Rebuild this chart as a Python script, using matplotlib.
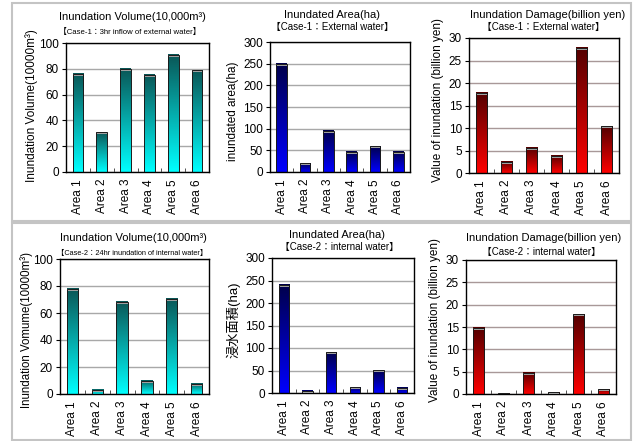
import numpy as np
import matplotlib
matplotlib.use("Agg")
import matplotlib.pyplot as plt
from matplotlib.colors import LinearSegmentedColormap
from matplotlib.patches import Rectangle

plt.rcParams['font.family'] = ['Liberation Sans', 'Noto Sans CJK JP', 'DejaVu Sans']

areas = ["Area 1", "Area 2", "Area 3", "Area 4", "Area 5", "Area 6"]

# Case-1: external water
vol_case1 = [76, 31, 80, 75.5, 91, 79]
area_case1 = [250, 20, 95, 47, 59, 47]
damage_case1 = [17.8, 2.5, 5.6, 3.8, 27.8, 10.4]

# Case-2: internal water
vol_case2 = [78, 3, 68.5, 10, 70.5, 7.5]
area_case2 = [241, 5, 91, 13, 51, 12]
damage_case2 = [14.8, 0.2, 4.8, 0.4, 17.8, 1.1]

W, H = 634, 441
fig = plt.figure(figsize=(W / 100, H / 100), dpi=100)
fig.patch.set_facecolor('white')


def fx(x):
    return x / W


def fy(y):
    return 1 - y / H


def px_axes(x0, y0, x1, y1):
    return fig.add_axes([fx(x0), fy(y1), (x1 - x0) / W, (y1 - y0) / H])


# panel frames
for (x0, y0, x1, y1) in [(12, 3, 631, 221), (12, 223, 631, 440)]:
    fig.patches.append(Rectangle((fx(x0), fy(y1)), (x1 - x0) / W, (y1 - y0) / H,
                                 transform=fig.transFigure, facecolor='none',
                                 edgecolor='#c4c4c4', lw=1.5))


def gradient_bars(ax, values, dark, light, ymax, step, grid_color):
    ax.set_xlim(-0.5, 5.5)
    ax.set_ylim(0, ymax)
    cmap = LinearSegmentedColormap.from_list('bar', [light, dark])
    grad = np.linspace(0, 1, 256).reshape(-1, 1)
    ax_h_px = ax.get_position().height * H
    cap = 2.0 * ymax / ax_h_px
    width = 0.45
    for i, v in enumerate(values):
        x0 = i - width / 2
        ax.imshow(grad, extent=(x0, x0 + width, 0, v), origin='lower', cmap=cmap,
                  aspect='auto', zorder=2, interpolation='bilinear')
        ax.add_patch(Rectangle((x0, max(v - cap, 0)), width, min(cap, v),
                               facecolor='#a0a0a0', edgecolor='none', zorder=3))
        ax.add_patch(Rectangle((x0, 0), width, v, facecolor='none',
                               edgecolor='#1a1a1a', lw=0.7, zorder=4))
    ax.set_xlim(-0.5, 5.5)
    ax.set_ylim(0, ymax)
    ax.set_yticks(np.arange(0, ymax + step / 2, step))
    ax.yaxis.grid(True, color=grid_color, lw=1)
    ax.set_axisbelow(True)
    ax.set_xticks(range(len(areas)))
    ax.set_xticklabels(areas, rotation=90, fontsize=8.5)
    ax.set_xticks(np.arange(0.5, 5.0, 1.0), minor=True)
    ax.tick_params(axis='x', which='major', length=0, pad=5)
    ax.tick_params(axis='x', which='minor', direction='in', length=3, color='#333333')
    ax.tick_params(axis='y', length=3, direction='out', labelsize=8.5, pad=2)
    for s in ax.spines.values():
        s.set_color('black')
        s.set_linewidth(1)


teal = ('#0a5656', '#00ffff')
blue = ('#00004a', '#0000ff')
red = ('#520000', '#ff0000')

panels = [
    ((66, 43, 209, 172), vol_case1, teal, 100, 20, '#a8a8a8'),
    ((270, 42, 410, 172), area_case1, blue, 300, 50, '#a8a8a8'),
    ((469, 38, 619, 173), damage_case1, red, 30, 5, '#a89898'),
    ((60, 259, 209, 394), vol_case2, teal, 100, 20, '#a8a8a8'),
    ((272, 258, 414, 393), area_case2, blue, 300, 50, '#a8a8a8'),
    ((466, 260, 616, 394), damage_case2, red, 30, 5, '#a89898'),
]

for rect, vals, (dark, light), ymax, step, gc in panels:
    ax = px_axes(*rect)
    gradient_bars(ax, vals, dark, light, ymax, step, gc)

# titles
titles = [
    (132, 17, "Inundation Volume(10,000m³)", 130, 32, "【Case-1：3hr inflow of external water】", 5.6),
    (332, 15, "Inundated Area(ha)", 332, 27, "【Case-1：External water】", 7),
    (548, 15, "Inundation Damage(billion yen)", 543, 27, "【Case-1：External water】", 7),
    (133, 238, "Inundation Volume(10,000m³)", 132, 253, "【Case-2：24hr inundation of internal water】", 5.3),
    (337, 235, "Inundated Area(ha)", 339, 247, "【Case-2：internal water】", 7),
    (544, 238, "Inundation Damage(billion yen)", 541, 252, "【Case-2：internal water】", 7),
]
for tx, ty, t, sx, sy, s, ss in titles:
    fig.text(fx(tx), fy(ty), t, ha='center', va='center', fontsize=8)
    fig.text(fx(sx), fy(sy), s, ha='center', va='center', fontsize=ss)

# y-axis labels
ylabels = [
    (32, 106, "Inundation Volume(10000m³)", 8.5),
    (233, 111, "inundated area(ha)", 8.5),
    (438, 100, "Value of inundation (billion yen)", 8.5),
    (27, 330, "Inundation Vomume(10000m³)", 8.3),
    (233, 320, "浸水面積(ha)", 9.5),
    (435, 320, "Value of inundation (billion yen)", 8.5),
]
for x, y, t, fs in ylabels:
    fig.text(fx(x), fy(y), t, rotation=90, ha='center', va='center', fontsize=fs)

fig.savefig("out.png", dpi=100)
